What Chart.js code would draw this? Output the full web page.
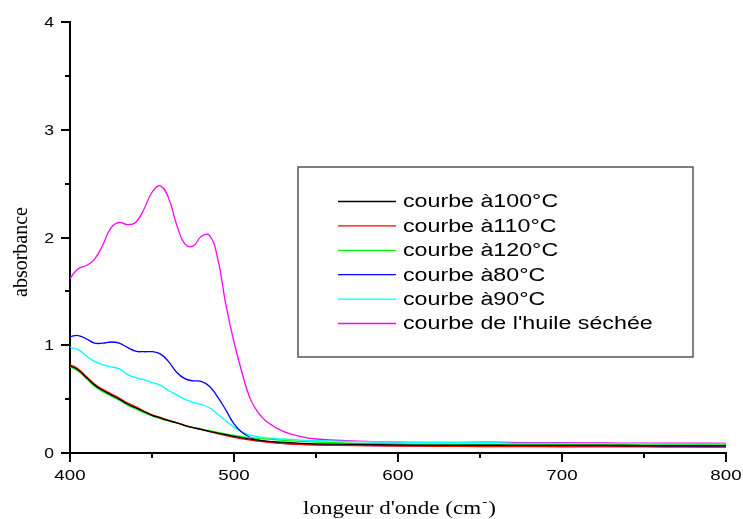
<!DOCTYPE html>
<html>
<head>
<meta charset="utf-8">
<script src="https://cdn.jsdelivr.net/npm/chart.js"></script>
<style>
  body { margin: 0; background: #fff; }
</style>
</head>
<body>
<canvas id="graphe-abs" width="743" height="519"></canvas>
<script>
// longueurs d'onde (nm) et absorbances
const longueurs = [400,405,410,415,420,425,430,435,440,445,450,455,460,465,470,475,480,485,490,495,500,505,510,515,520,530,540,550,575,600,625,650,660,675,700,725,750,775,800];

const courbe100 = [0.81,0.77,0.70,0.63,0.58,0.54,0.50,0.455,0.42,0.385,0.35,0.325,0.30,0.28,0.255,0.235,0.22,0.20,0.185,0.17,0.155,0.14,0.13,0.12,0.11,0.10,0.09,0.085,0.08,0.075,0.073,0.072,0.072,0.071,0.07,0.07,0.069,0.068,0.068];
const courbe110 = [0.82,0.78,0.71,0.64,0.59,0.55,0.51,0.465,0.43,0.39,0.355,0.33,0.305,0.283,0.257,0.236,0.218,0.198,0.18,0.162,0.145,0.132,0.12,0.11,0.10,0.088,0.08,0.075,0.068,0.065,0.062,0.06,0.06,0.059,0.058,0.057,0.056,0.055,0.055];
const courbe120 = [0.80,0.76,0.69,0.62,0.57,0.53,0.49,0.445,0.41,0.375,0.345,0.32,0.298,0.279,0.256,0.238,0.224,0.207,0.192,0.177,0.163,0.152,0.143,0.135,0.128,0.118,0.108,0.10,0.09,0.085,0.082,0.08,0.08,0.079,0.078,0.077,0.076,0.075,0.075];
const courbe80 = [1.08,1.09,1.06,1.02,1.02,1.03,1.02,0.98,0.945,0.94,0.94,0.92,0.85,0.75,0.69,0.67,0.665,0.62,0.52,0.40,0.27,0.19,0.145,0.12,0.105,0.09,0.08,0.075,0.07,0.068,0.066,0.068,0.067,0.065,0.064,0.063,0.062,0.061,0.06];
const courbe90 = [0.98,0.96,0.90,0.85,0.82,0.80,0.78,0.73,0.70,0.68,0.655,0.63,0.58,0.54,0.50,0.47,0.45,0.42,0.36,0.30,0.24,0.195,0.165,0.15,0.14,0.13,0.12,0.115,0.105,0.10,0.096,0.095,0.095,0.09,0.088,0.087,0.086,0.085,0.085];
const courbeHuile = [1.62,1.71,1.74,1.80,1.93,2.09,2.14,2.12,2.14,2.26,2.42,2.48,2.37,2.12,1.94,1.92,2.01,2.02,1.81,1.38,1.03,0.74,0.50,0.37,0.29,0.20,0.155,0.13,0.11,0.10,0.098,0.10,0.10,0.097,0.095,0.093,0.092,0.091,0.09];

const legendes = ['courbe à100°C','courbe à110°C','courbe à120°C','courbe à80°C','courbe à90°C',"courbe de l'huile séchée"];
const couleurs = ['#000000','#ff0000','#00ff00','#0000ff','#00ffff','#ff00ff'];
const series = [courbe100, courbe110, courbe120, courbe80, courbe90, courbeHuile];

const xTicks = [400,500,600,700,800];
const yTicks = [0,1,2,3,4];

// texte étiré horizontalement comme sur l'image d'origine
function texteEtire(ctx, txt, x, y, sx) {
  ctx.save();
  ctx.translate(x, y);
  ctx.scale(sx, 1);
  ctx.fillText(txt, 0, 0);
  ctx.restore();
}

const decor = {
  id: 'decor',
  afterDraw(chart) {
    const ctx = chart.ctx;
    const xs = chart.scales.x, ys = chart.scales.y;
    const area = chart.chartArea;
    ctx.save();
    ctx.strokeStyle = '#000';
    ctx.lineWidth = 2;
    // graduations
    for (let v = 400; v <= 800; v += 50) {
      const px = Math.round(xs.getPixelForValue(v));
      const l = v % 100 === 0 ? 9 : 5;
      ctx.beginPath(); ctx.moveTo(px, area.bottom); ctx.lineTo(px, area.bottom + l); ctx.stroke();
    }
    for (let v = 0; v <= 4; v += 0.5) {
      const py = Math.round(ys.getPixelForValue(v));
      const l = v % 1 === 0 ? 9 : 5;
      ctx.beginPath(); ctx.moveTo(area.left, py); ctx.lineTo(area.left - l, py); ctx.stroke();
    }

    // étiquettes des graduations
    ctx.fillStyle = '#000';
    ctx.textBaseline = 'alphabetic';
    ctx.font = '15px "Liberation Sans", Arial, sans-serif';
    ctx.textAlign = 'center';
    xTicks.forEach(v => {
      texteEtire(ctx, String(v), xs.getPixelForValue(v), area.bottom + 27, 1.25);
    });
    ctx.font = '14px "Liberation Sans", Arial, sans-serif';
    ctx.textAlign = 'right';
    yTicks.forEach(v => {
      texteEtire(ctx, String(v), 54, ys.getPixelForValue(v) + 5, 1.25);
    });

    // légende encadrée
    ctx.fillStyle = '#fff';
    ctx.fillRect(298, 167, 395, 190);
    ctx.strokeStyle = '#555';
    ctx.lineWidth = 1.5;
    ctx.strokeRect(298, 167, 395, 190);
    ctx.font = '18px "Liberation Sans", Arial, sans-serif';
    ctx.textBaseline = 'middle';
    ctx.textAlign = 'left';
    chart.data.datasets.forEach((ds, i) => {
      const y = 201.5 + i * 24.4;
      ctx.strokeStyle = ds.borderColor;
      ctx.lineWidth = 1.3;
      ctx.beginPath(); ctx.moveTo(338, y); ctx.lineTo(396, y); ctx.stroke();
      ctx.fillStyle = '#000';
      texteEtire(ctx, ds.label, 403, y + 1, 1.29);
    });

    // titres des axes
    ctx.fillStyle = '#000';
    ctx.font = '20px "Liberation Serif", "Times New Roman", serif';
    ctx.textAlign = 'center';
    ctx.save();
    ctx.translate(22, 252);
    ctx.rotate(-Math.PI / 2);
    ctx.fillText('absorbance', 0, 0);
    ctx.restore();

    ctx.textAlign = 'left';
    ctx.textBaseline = 'alphabetic';
    ctx.font = '18px "Liberation Serif", "Times New Roman", serif';
    const debut = "longeur d'onde (cm";
    const sx = 1.28;
    let x = 303;
    texteEtire(ctx, debut, x, 514, sx);
    x += ctx.measureText(debut).width * sx;
    ctx.font = '12px "Liberation Serif", "Times New Roman", serif';
    texteEtire(ctx, '-', x + 1, 506, sx);
    x += ctx.measureText('-').width * sx + 2;
    ctx.font = '18px "Liberation Serif", "Times New Roman", serif';
    texteEtire(ctx, ')', x, 514, sx);
    ctx.restore();
  }
};

new Chart(document.getElementById('graphe-abs'), {
  type: 'line',
  data: {
    datasets: series.map((s, i) => ({
      label: legendes[i],
      data: longueurs.map((l, j) => ({ x: l, y: s[j] })),
      borderColor: couleurs[i],
      borderWidth: 1.3,
      pointRadius: 0,
      tension: 0.45,
      fill: false
    }))
  },
  options: {
    responsive: false,
    animation: false,
    layout: { padding: { top: 22, right: 17, left: 0, bottom: 0 } },
    plugins: {
      legend: { display: false },
      tooltip: { enabled: false }
    },
    scales: {
      x: {
        type: 'linear',
        min: 400, max: 800,
        afterFit: s => { s.height = 66; },
        grid: { drawOnChartArea: false, drawTicks: false },
        border: { display: true, color: '#000', width: 2 },
        ticks: { display: false, stepSize: 100 }
      },
      y: {
        min: 0, max: 4,
        afterFit: s => { s.width = 70; },
        grid: { drawOnChartArea: false, drawTicks: false },
        border: { display: true, color: '#000', width: 2 },
        ticks: { display: false, stepSize: 1 }
      }
    }
  },
  plugins: [decor]
});
</script>
</body>
</html>
